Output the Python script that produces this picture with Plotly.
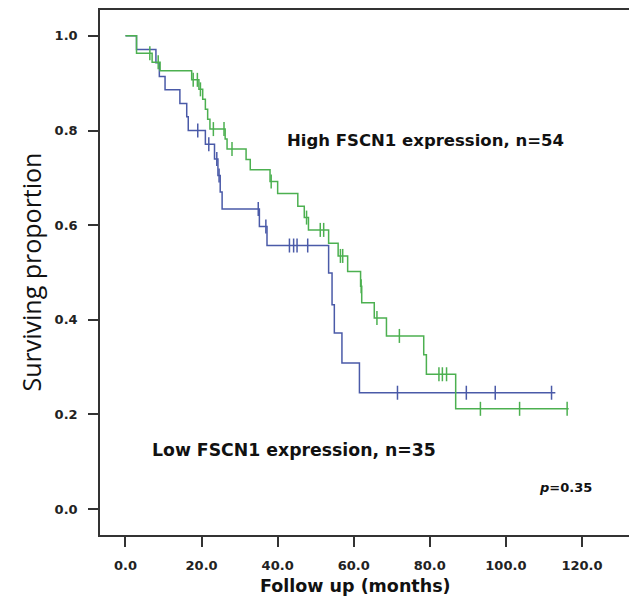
import plotly.graph_objects as go
import numpy as np

# ---- data ----
# Low FSCN1 expression (n=35): step times (months) and survival levels
low_time = [0, 2.9, 8.0, 8.9, 10.4, 14.3, 16.1, 16.5, 21.0, 23.4, 24.3, 24.9, 25.4,
            35.2, 37.2, 53.4, 54.3, 54.9, 56.9, 61.5, 113.0]
low_surv = [1.0, 0.971, 0.943, 0.914, 0.886, 0.857, 0.829, 0.800, 0.771, 0.740, 0.705,
            0.670, 0.634, 0.597, 0.557, 0.499, 0.432, 0.372, 0.309, 0.246, 0.246]
low_censor = [19.0, 21.9, 24.0, 24.6, 34.9, 36.9, 43.1, 44.2, 45.1, 47.9,
              71.5, 89.6, 97.2, 112.0]

# High FSCN1 expression (n=54)
high_time = [0, 2.9, 7.0, 9.1, 17.4, 19.3, 20.3, 21.0, 21.6, 22.2, 26.2, 26.7, 31.7,
             32.8, 38.0, 40.0, 45.3, 47.0, 48.1, 53.4, 55.9, 58.4, 61.8, 62.1, 65.4,
             68.6, 78.4, 79.1, 86.8, 116.5]
high_surv = [1.0, 0.963, 0.944, 0.926, 0.907, 0.887, 0.866, 0.845, 0.824, 0.803, 0.782,
             0.761, 0.739, 0.717, 0.692, 0.667, 0.640, 0.616, 0.590, 0.562, 0.535, 0.502,
             0.471, 0.436, 0.404, 0.366, 0.326, 0.285, 0.212, 0.212]
high_censor = [6.4, 8.6, 17.8, 18.9, 19.7, 23.1, 25.9, 28.0, 38.3, 47.6, 51.2, 52.1,
               56.5, 57.1, 61.95, 66.1, 72.0, 82.4, 83.3, 84.4, 93.3, 103.6, 116.1]

x_ticks = [0, 20, 40, 60, 80, 100, 120]
y_ticks = [0.0, 0.2, 0.4, 0.6, 0.8, 1.0]

BLUE = "#4a5aa8"
GREEN = "#4cb050"


def step_value(times, surv, t):
    idx = np.searchsorted(np.array(times), t, side="right") - 1
    return surv[max(idx, 0)]


fig = go.Figure()

for times, surv, cens, color, name in [
    (low_time, low_surv, low_censor, BLUE, "Low"),
    (high_time, high_surv, high_censor, GREEN, "High"),
]:
    fig.add_trace(go.Scatter(x=times, y=surv, mode="lines", line_shape="hv",
                             line=dict(color=color, width=1.5), name=name,
                             showlegend=False, hoverinfo="skip"))
    fig.add_trace(go.Scatter(x=cens, y=[step_value(times, surv, c) for c in cens],
                             mode="markers",
                             marker=dict(symbol="line-ns", size=10,
                                         line=dict(color=color, width=1.5)),
                             showlegend=False, hoverinfo="skip"))

axis_common = dict(showline=True, linecolor="#333333", linewidth=1.5, mirror=True,
                   ticks="outside", ticklen=10, tickwidth=1.5, tickcolor="#333333",
                   showgrid=False, zeroline=False,
                   tickfont=dict(family="DejaVu Sans", size=13, color="#222222",
                                 weight="bold"))

fig.update_xaxes(range=[-6.70, 133.15], tickvals=x_ticks,
                 ticktext=[f"{v:.1f}" for v in x_ticks], ticklabelstandoff=8,
                 **axis_common)
fig.update_yaxes(range=[-0.0546, 1.0546], tickvals=y_ticks,
                 ticktext=[f"{v:.1f}" for v in y_ticks], ticklabelstandoff=8,
                 **axis_common)

fig.add_annotation(x=42.0, y=0.778, xref="x", yref="y", xanchor="left",
                   yanchor="middle", showarrow=False,
                   text="<b>High FSCN1 expression, n=54</b>",
                   font=dict(family="DejaVu Sans", size=16.5, color="#111111"))
fig.add_annotation(x=6.4, y=0.124, xref="x", yref="y", xanchor="left",
                   yanchor="middle", showarrow=False,
                   text="<b>Low FSCN1 expression, n=35</b>",
                   font=dict(family="DejaVu Sans", size=17.3, color="#111111"))
fig.add_annotation(x=108.3, y=0.046, xref="x", yref="y", xanchor="left",
                   yanchor="middle", showarrow=False,
                   text="<b><i>p</i>=0.35</b>",
                   font=dict(family="DejaVu Sans", size=13, color="#111111"))

# plot area (page pixels): x 100..632, y 7..535 ; page offset ~8 px
PL, PR, PT, PB = 92, 624, 0, 527
FIG_W, FIG_H = 629, 592
fig.add_annotation(x=(22 - PL) / (PR - PL), y=0.5, xref="paper", yref="paper",
                   xanchor="center", yanchor="middle", showarrow=False,
                   textangle=-90, text="Surviving proportion",
                   font=dict(family="Open Sans", size=25, color="#111111"))
fig.add_annotation(x=(347 - PL) / (PR - PL), y=(PB - 578) / (PB - PT),
                   xref="paper", yref="paper", xanchor="center", yanchor="middle",
                   showarrow=False, text="<b>Follow up (months)</b>",
                   font=dict(family="DejaVu Sans", size=17.5, color="#111111"))

fig.update_layout(width=FIG_W, height=FIG_H,
                  margin=dict(l=PL, r=FIG_W - PR, t=PT, b=FIG_H - PB),
                  plot_bgcolor="white", paper_bgcolor="white")

fig.write_html("out.html")
